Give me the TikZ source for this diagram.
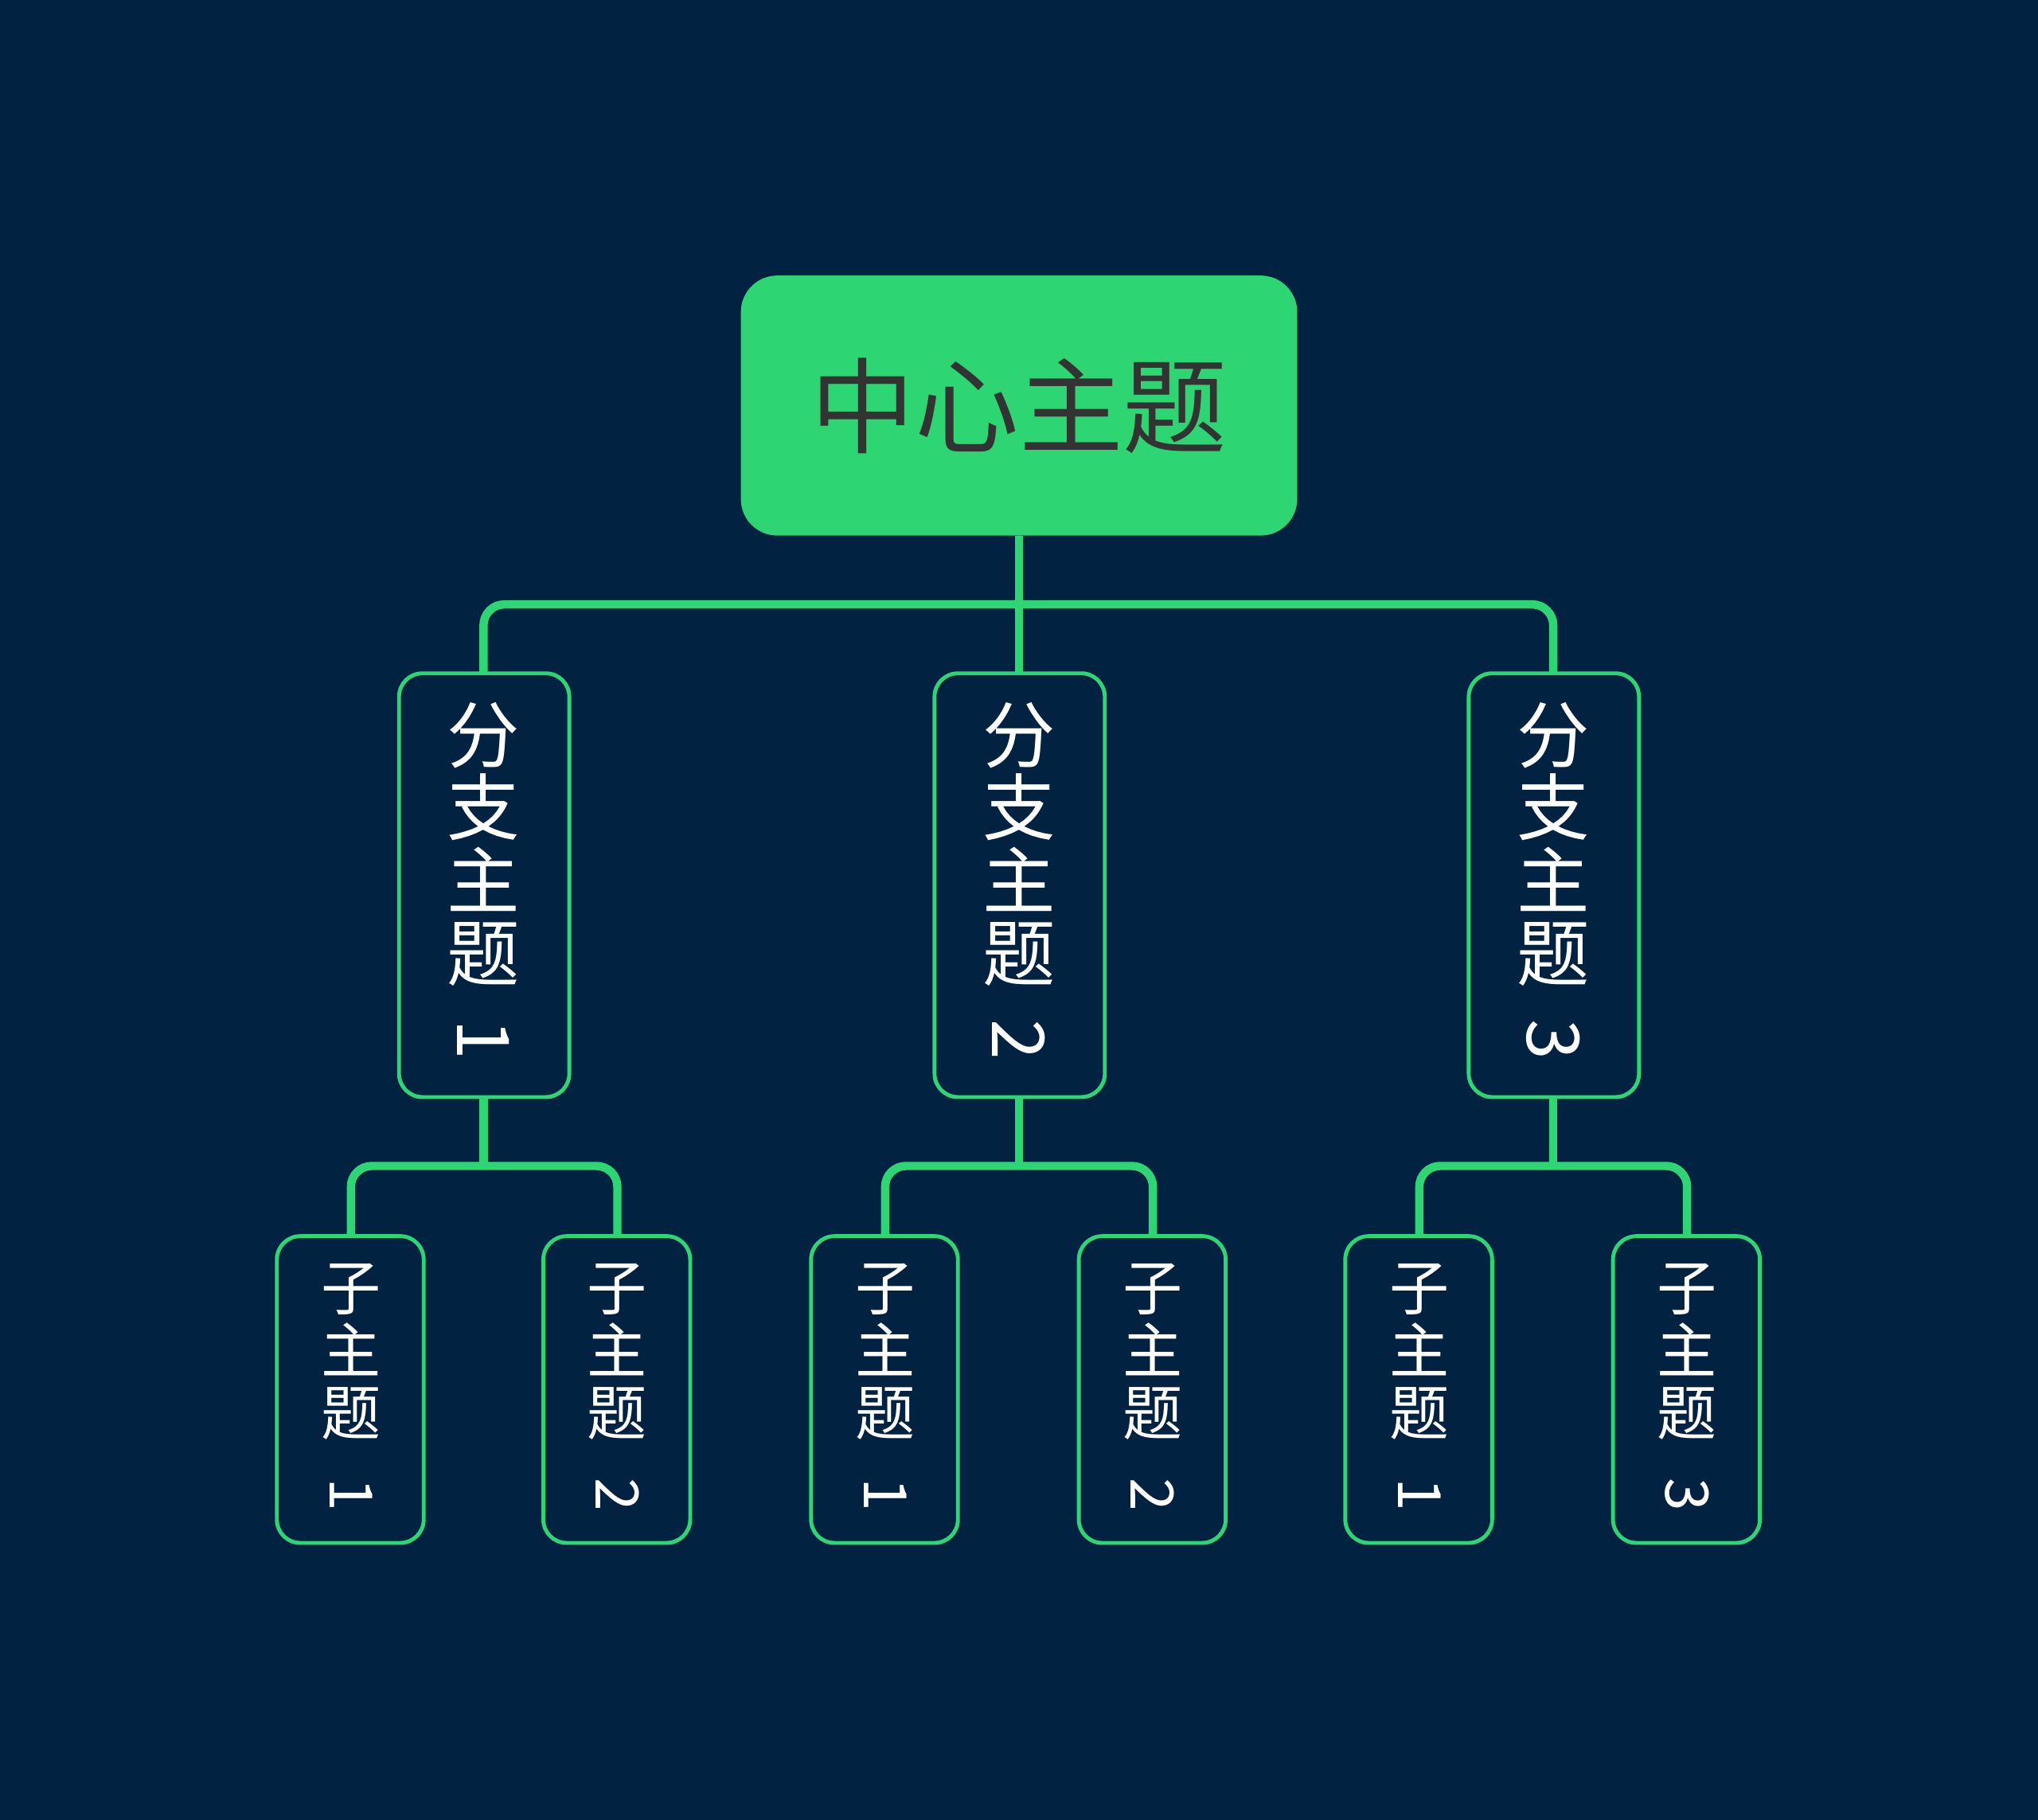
\documentclass[tikz,border=0pt]{standalone}
\usepackage{fontspec}
\setmainfont{Noto Sans CJK SC}
\definecolor{bg}{HTML}{012241}
\definecolor{gr}{HTML}{2ED573}
\definecolor{dk}{HTML}{333333}
\begin{document}
\begin{tikzpicture}[x=0.5pt,y=-0.5pt,
  conn/.style={gr,line width=3.2pt,rounded corners=8pt},
  bbox/.style={draw=gr,line width=1.5pt,rounded corners=9pt,fill=bg},
  txt/.style={white,align=center,inner sep=0pt}]
\fill[bg] (0,0) rectangle (1568,1400);
\useasboundingbox (0,0) rectangle (1568,1400);
% connectors
\coordinate (c0) at (784,412);
\draw[conn] (372,518) |- (784,465) -| (1195,518);
\draw[conn] (c0) -- (784,518);
\foreach \x/\a/\b in {372/270/475, 784/681/887, 1195/1092/1298}{
  \draw[conn] (\x,844) -- (\x,897);
  \draw[conn] (\a,951) |- (\x,897) -| (\b,951);
}
% central
\fill[gr,rounded corners=14pt] (570,212) rectangle (998,412);
\node[dk,font=\fontsize{40}{40}\selectfont] (c) at (784,312) {中心主题};
% branches
\foreach \x/\n in {372/1,784/2,1195/3}{
  \draw[bbox] (\x-65,518) rectangle (\x+66,844);
  \node[txt,font=\fontsize{28}{28}\selectfont,anchor=north] (b\n) at (\x,540) {分\\支\\主\\题};
  \node[txt,font=\fontsize{28}{28}\selectfont,rotate=-90] (bn\n) at (\x,800) {\n};
}
% leaves
\foreach \x/\n/\k in {270/1/a,475/2/b,681/1/c,887/2/d,1092/1/e,1298/3/f}{
  \draw[bbox] (\x-57,951) rectangle (\x+56,1187);
  \node[txt,font=\fontsize{23}{24}\selectfont,anchor=north] (l\k) at (\x,972) {子\\主\\题};
  \node[txt,font=\fontsize{23}{24}\selectfont,rotate=-90] (ln\k) at (\x,1150) {\n};
}
\end{tikzpicture}
\end{document}
